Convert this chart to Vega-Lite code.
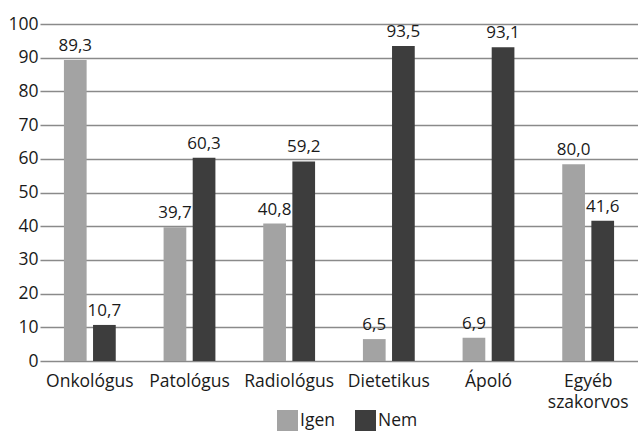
{
  "$schema": "https://vega.github.io/schema/vega-lite/v6.json",
  "width": 598,
  "height": 337,
  "autosize": {"type": "none"},
  "padding": {"left": 40, "top": 24, "right": 0, "bottom": 76},
  "background": "white",
  "config": {
    "font": "Open Sans",
    "view": {"stroke": null}
  },
  "data": {
    "values": [
      {"cat": "Onkológus", "group": "Igen", "value": 89.3, "label": "89,3"},
      {"cat": "Onkológus", "group": "Nem", "value": 10.7, "label": "10,7"},
      {"cat": "Patológus", "group": "Igen", "value": 39.7, "label": "39,7"},
      {"cat": "Patológus", "group": "Nem", "value": 60.3, "label": "60,3"},
      {"cat": "Radiológus", "group": "Igen", "value": 40.8, "label": "40,8"},
      {"cat": "Radiológus", "group": "Nem", "value": 59.2, "label": "59,2"},
      {"cat": "Dietetikus", "group": "Igen", "value": 6.5, "label": "6,5"},
      {"cat": "Dietetikus", "group": "Nem", "value": 93.5, "label": "93,5"},
      {"cat": "Ápoló", "group": "Igen", "value": 6.9, "label": "6,9"},
      {"cat": "Ápoló", "group": "Nem", "value": 93.1, "label": "93,1"},
      {"cat": "Egyéb szakorvos", "group": "Igen", "value": 58.4, "label": "80,0"},
      {"cat": "Egyéb szakorvos", "group": "Nem", "value": 41.6, "label": "41,6"}
    ]
  },
  "encoding": {
    "x": {
      "field": "cat",
      "type": "nominal",
      "sort": null,
      "scale": {"paddingInner": 0.48, "paddingOuter": 0.24},
      "axis": {
        "title": null,
        "labelAngle": 0,
        "labelFontSize": 17.5,
        "labelColor": "#1a1a1a",
        "labelPadding": 11,
        "labelLineHeight": 21,
        "labelOverlap": false,
        "ticks": false,
        "domain": false,
        "labelExpr": "datum.label == 'Egyéb szakorvos' ? ['Egyéb', 'szakorvos'] : datum.label"
      }
    },
    "xOffset": {"field": "group", "type": "nominal", "scale": {"paddingInner": 0.22}},
    "y": {
      "field": "value",
      "type": "quantitative",
      "scale": {"domain": [0, 100], "nice": false},
      "axis": {
        "title": null,
        "values": [0, 10, 20, 30, 40, 50, 60, 70, 80, 90, 100],
        "labelFontSize": 17.5,
        "labelColor": "#1a1a1a",
        "labelPadding": 2,
        "ticks": false,
        "domain": false,
        "gridColor": "#8a8a8a",
        "gridWidth": 1.5,
        "gridOpacity": 1
      }
    }
  },
  "layer": [
    {
      "mark": {"type": "bar"},
      "encoding": {
        "color": {
          "field": "group",
          "type": "nominal",
          "scale": {"domain": ["Igen", "Nem"], "range": ["#a3a3a3", "#3d3d3d"]},
          "legend": {
            "title": null,
            "orient": "none",
            "direction": "horizontal",
            "legendX": 237,
            "legendY": 386,
            "symbolType": "square",
            "symbolSize": 441,
            "symbolStrokeWidth": 0,
            "symbolOpacity": 1,
            "labelFontSize": 17.5,
            "labelColor": "#1a1a1a",
            "labelOffset": 2,
            "columnPadding": 20
          }
        }
      }
    },
    {
      "mark": {"type": "text", "baseline": "alphabetic", "dy": -9, "fontSize": 17, "color": "#1a1a1a"},
      "encoding": {"text": {"field": "label"}}
    }
  ]
}
